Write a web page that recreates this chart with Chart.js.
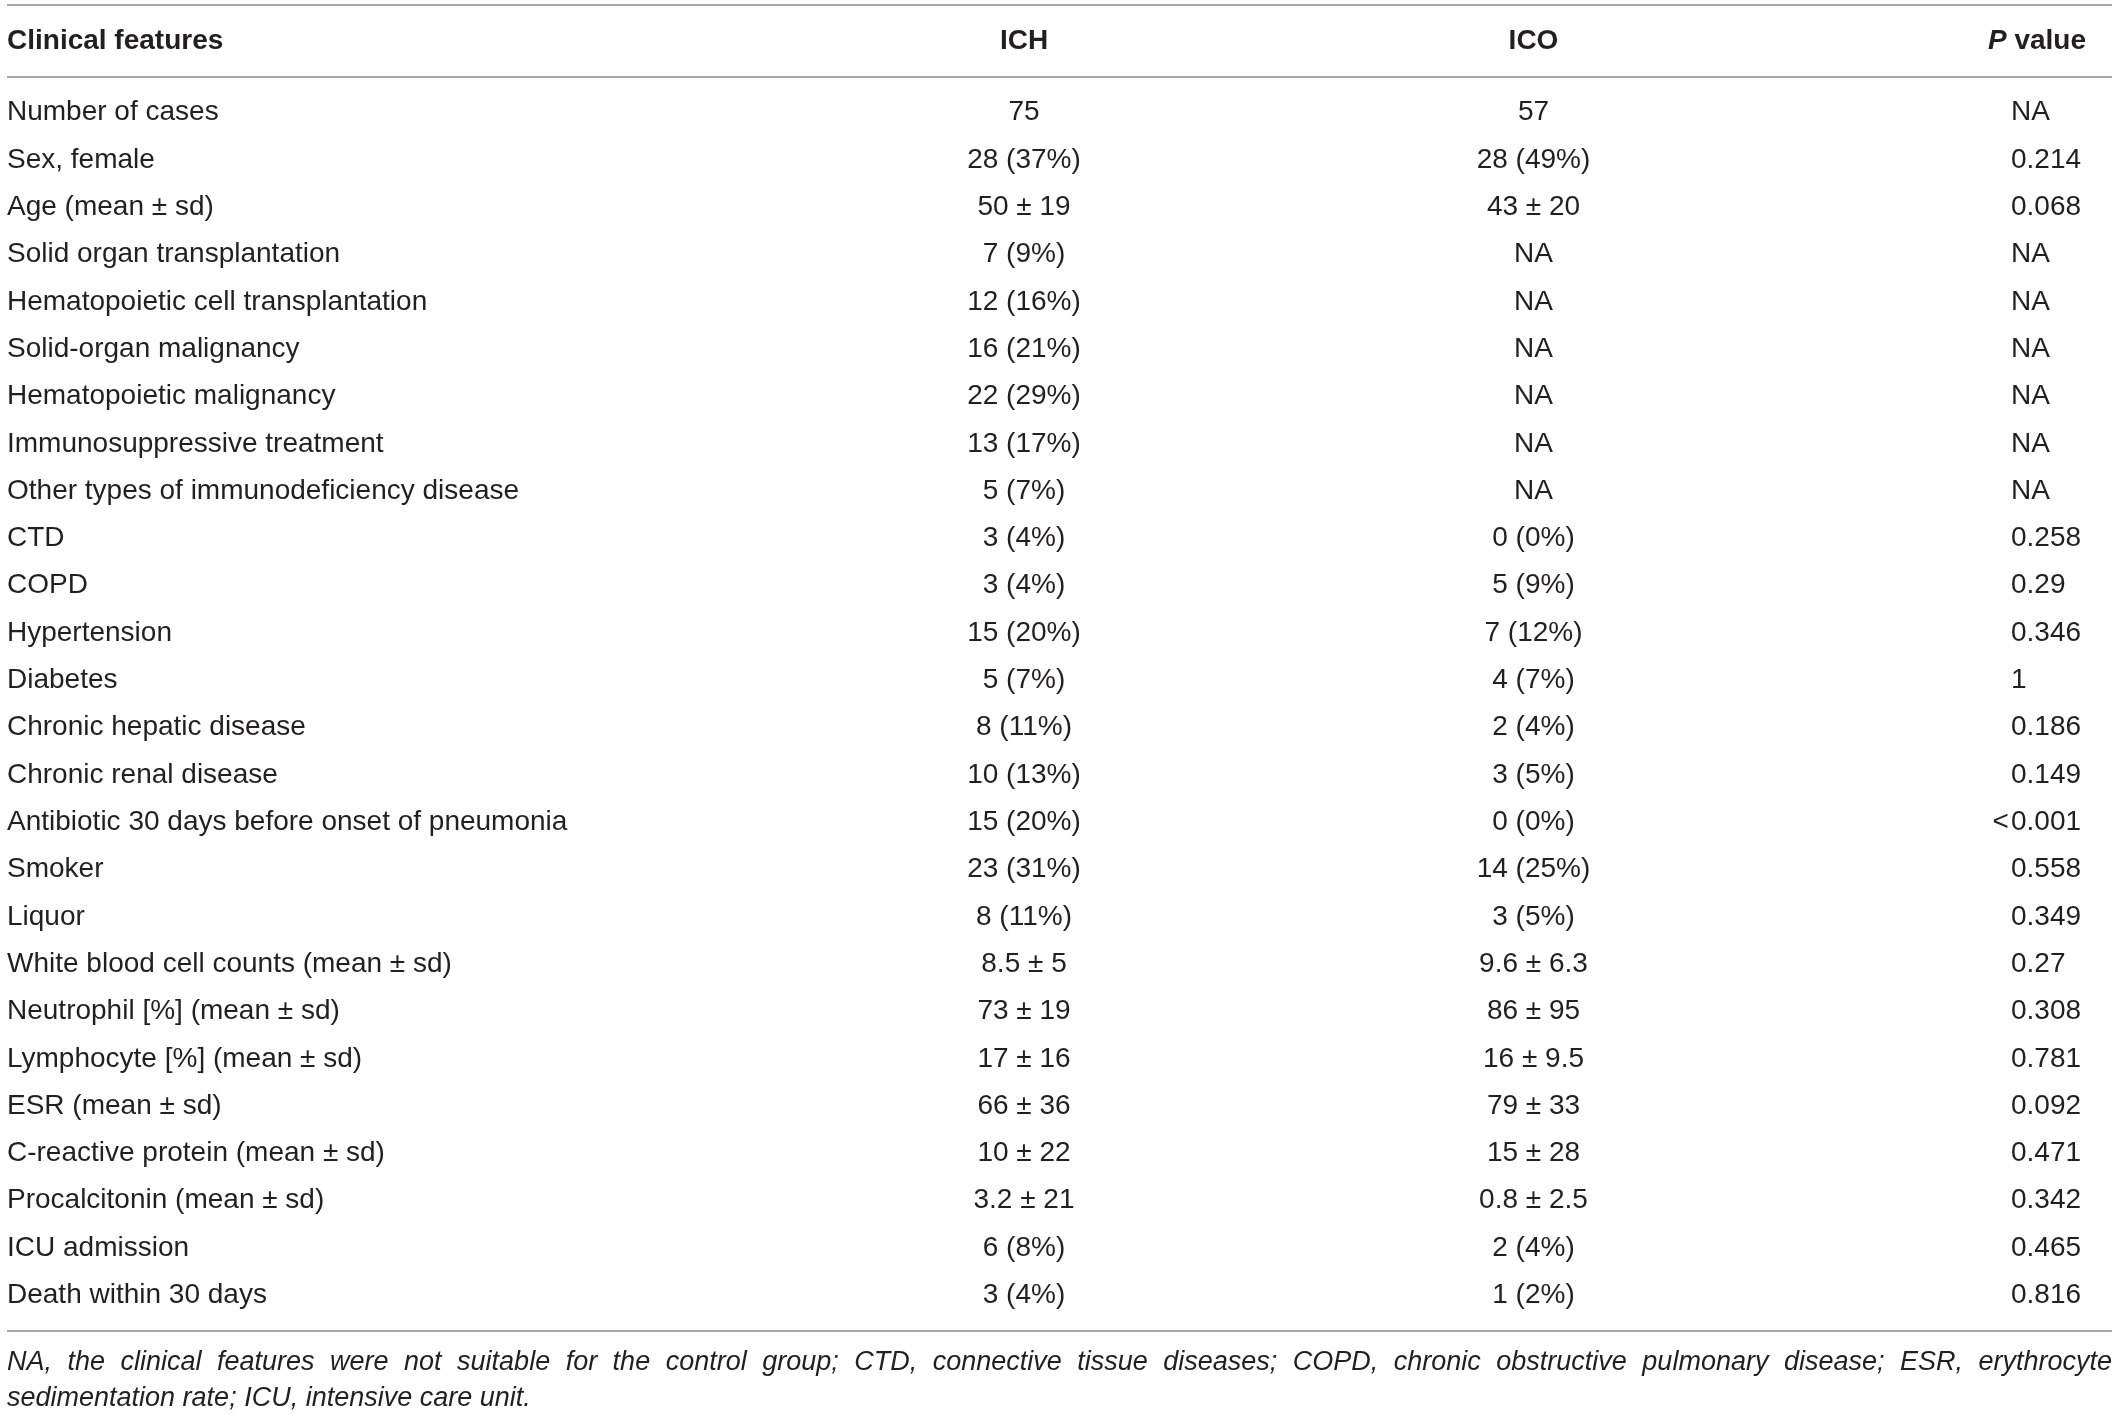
<!DOCTYPE html>
<html>
<head>
<meta charset="utf-8">
<script src="https://cdn.jsdelivr.net/npm/chart.js@4.4.1/dist/chart.umd.min.js"></script>
<style>
    html, body { margin: 0; padding: 0; background: #fff; }
    #wrap { width: 2118px; height: 1415px; }
</style>
</head>
<body>
<div id="wrap"><canvas id="featuresTable"></canvas></div>
<script>
// table content
const features = [
    'Number of cases', 'Sex, female', 'Age (mean \u00b1 sd)', 'Solid organ transplantation',
    'Hematopoietic cell transplantation', 'Solid-organ malignancy', 'Hematopoietic malignancy',
    'Immunosuppressive treatment', 'Other types of immunodeficiency disease', 'CTD', 'COPD',
    'Hypertension', 'Diabetes', 'Chronic hepatic disease', 'Chronic renal disease',
    'Antibiotic 30 days before onset of pneumonia', 'Smoker', 'Liquor',
    'White blood cell counts (mean \u00b1 sd)', 'Neutrophil [%] (mean \u00b1 sd)',
    'Lymphocyte [%] (mean \u00b1 sd)', 'ESR (mean \u00b1 sd)', 'C-reactive protein (mean \u00b1 sd)',
    'Procalcitonin (mean \u00b1 sd)', 'ICU admission', 'Death within 30 days'
];
const ichValues = [
    '75', '28 (37%)', '50 \u00b1 19', '7 (9%)', '12 (16%)', '16 (21%)', '22 (29%)', '13 (17%)',
    '5 (7%)', '3 (4%)', '3 (4%)', '15 (20%)', '5 (7%)', '8 (11%)', '10 (13%)', '15 (20%)',
    '23 (31%)', '8 (11%)', '8.5 \u00b1 5', '73 \u00b1 19', '17 \u00b1 16', '66 \u00b1 36',
    '10 \u00b1 22', '3.2 \u00b1 21', '6 (8%)', '3 (4%)'
];
const icoValues = [
    '57', '28 (49%)', '43 \u00b1 20', 'NA', 'NA', 'NA', 'NA', 'NA', 'NA', '0 (0%)', '5 (9%)',
    '7 (12%)', '4 (7%)', '2 (4%)', '3 (5%)', '0 (0%)', '14 (25%)', '3 (5%)', '9.6 \u00b1 6.3',
    '86 \u00b1 95', '16 \u00b1 9.5', '79 \u00b1 33', '15 \u00b1 28', '0.8 \u00b1 2.5', '2 (4%)', '1 (2%)'
];
const pValues = [
    'NA', '0.214', '0.068', 'NA', 'NA', 'NA', 'NA', 'NA', 'NA', '0.258', '0.29', '0.346', '1',
    '0.186', '0.149', '<0.001', '0.558', '0.349', '0.27', '0.308', '0.781', '0.092', '0.471',
    '0.342', '0.465', '0.816'
];
const columns = ['ICH', 'ICO', 'P value'];
const firstHeader = 'Clinical features';
const footnote = [
    'NA, the clinical features were not suitable for the control group; CTD, connective tissue diseases; COPD, chronic obstructive pulmonary disease; ESR, erythrocyte',
    'sedimentation rate; ICU, intensive care unit.'
];

const FONT = '"Liberation Sans", Arial, Helvetica, sans-serif';
const TEXT_COLOR = '#231f20';
const RULE_COLOR = '#a9a9a9';

function cells(values, col) {
    return values.map((v, i) => ({ x: col, y: features[i], text: v }));
}

// draws the cell texts, header, rules and footnote
const tablePlugin = {
    id: 'tableCells',
    afterDatasetsDraw(chart) {
        const ctx = chart.ctx;
        const area = chart.chartArea;
        const xScale = chart.scales.x;
        const yScale = chart.scales.y;
        ctx.save();
        ctx.fillStyle = TEXT_COLOR;
        ctx.textBaseline = 'middle';
        ctx.font = '28px ' + FONT;
        const refHalf = ctx.measureText('0.000').width / 2;

        chart.data.datasets.forEach((ds, d) => {
            const meta = chart.getDatasetMeta(d);
            meta.data.forEach((pt, i) => {
                const txt = ds.data[i].text;
                if (ds.cellAlign === 'decimal') {
                    const left = pt.x - refHalf + 3;
                    if (txt.startsWith('<')) {
                        ctx.textAlign = 'right';
                        ctx.fillText('<', left - 2, pt.y);
                        ctx.textAlign = 'left';
                        ctx.fillText(txt.slice(1), left, pt.y);
                    } else {
                        ctx.textAlign = 'left';
                        ctx.fillText(txt, left, pt.y);
                    }
                } else {
                    ctx.textAlign = 'center';
                    ctx.fillText(txt, pt.x, pt.y);
                }
            });
        });

        // rules
        const headerRule = area.top - 12;
        const topRule = headerRule - 72;
        const bottomRule = area.bottom + 12;
        const lineLeft = yScale.left;
        const lineRight = chart.width - 6;
        ctx.strokeStyle = RULE_COLOR;
        ctx.lineWidth = 2;
        [topRule, headerRule, bottomRule].forEach(y => {
            ctx.beginPath();
            ctx.moveTo(lineLeft, y);
            ctx.lineTo(lineRight, y);
            ctx.stroke();
        });

        // header row
        const headerY = (topRule + headerRule) / 2;
        ctx.font = 'bold 28px ' + FONT;
        ctx.textAlign = 'left';
        ctx.fillText(firstHeader, yScale.left, headerY);
        columns.forEach((c, i) => {
            const x = xScale.getPixelForValue(i);
            if (c === 'P value') {
                const right = x + refHalf + 8;
                ctx.textAlign = 'right';
                ctx.font = 'bold 28px ' + FONT;
                const rest = ' value';
                ctx.fillText(rest, right, headerY);
                const w = ctx.measureText(rest).width;
                ctx.font = 'italic bold 28px ' + FONT;
                ctx.fillText('P', right - w, headerY);
            } else {
                ctx.textAlign = 'center';
                ctx.fillText(c, x, headerY);
            }
        });

        // footnote, first line justified
        ctx.font = 'italic 27px ' + FONT;
        ctx.textAlign = 'left';
        const fy = [bottomRule + 31, bottomRule + 67];
        footnote.forEach((line, li) => {
            if (li < footnote.length - 1) {
                const words = line.split(' ');
                const total = words.reduce((s, w) => s + ctx.measureText(w).width, 0);
                const gap = (lineRight - lineLeft - total) / (words.length - 1);
                let x = lineLeft;
                words.forEach(w => {
                    ctx.fillText(w, x, fy[li]);
                    x += ctx.measureText(w).width + gap;
                });
            } else {
                ctx.fillText(line, lineLeft, fy[li]);
            }
        });
        ctx.restore();
    }
};

const ctx = document.getElementById('featuresTable').getContext('2d');
new Chart(ctx, {
    type: 'scatter',
    data: {
        datasets: [
            { label: 'ICH', data: cells(ichValues, 'ICH'), pointRadius: 0 },
            { label: 'ICO', data: cells(icoValues, 'ICO'), pointRadius: 0 },
            { label: 'P value', data: cells(pValues, 'P value'), pointRadius: 0, cellAlign: 'decimal' }
        ]
    },
    options: {
        responsive: true,
        maintainAspectRatio: false,
        animation: false,
        events: [],
        layout: {
            padding: { top: 89, bottom: 96, left: 7, right: 75 }
        },
        plugins: {
            legend: { display: false },
            tooltip: { enabled: false }
        },
        scales: {
            x: {
                type: 'category',
                labels: columns,
                offset: false,
                display: false
            },
            y: {
                type: 'category',
                labels: features,
                offset: true,
                grid: { display: false, drawTicks: false },
                border: { display: false },
                ticks: {
                    crossAlign: 'far',
                    padding: 0,
                    autoSkip: false,
                    color: TEXT_COLOR,
                    font: { family: FONT, size: 28 }
                },
                afterFit: (scale) => { scale.width = 1017; }
            }
        }
    },
    plugins: [tablePlugin]
});
</script>
</body>
</html>
